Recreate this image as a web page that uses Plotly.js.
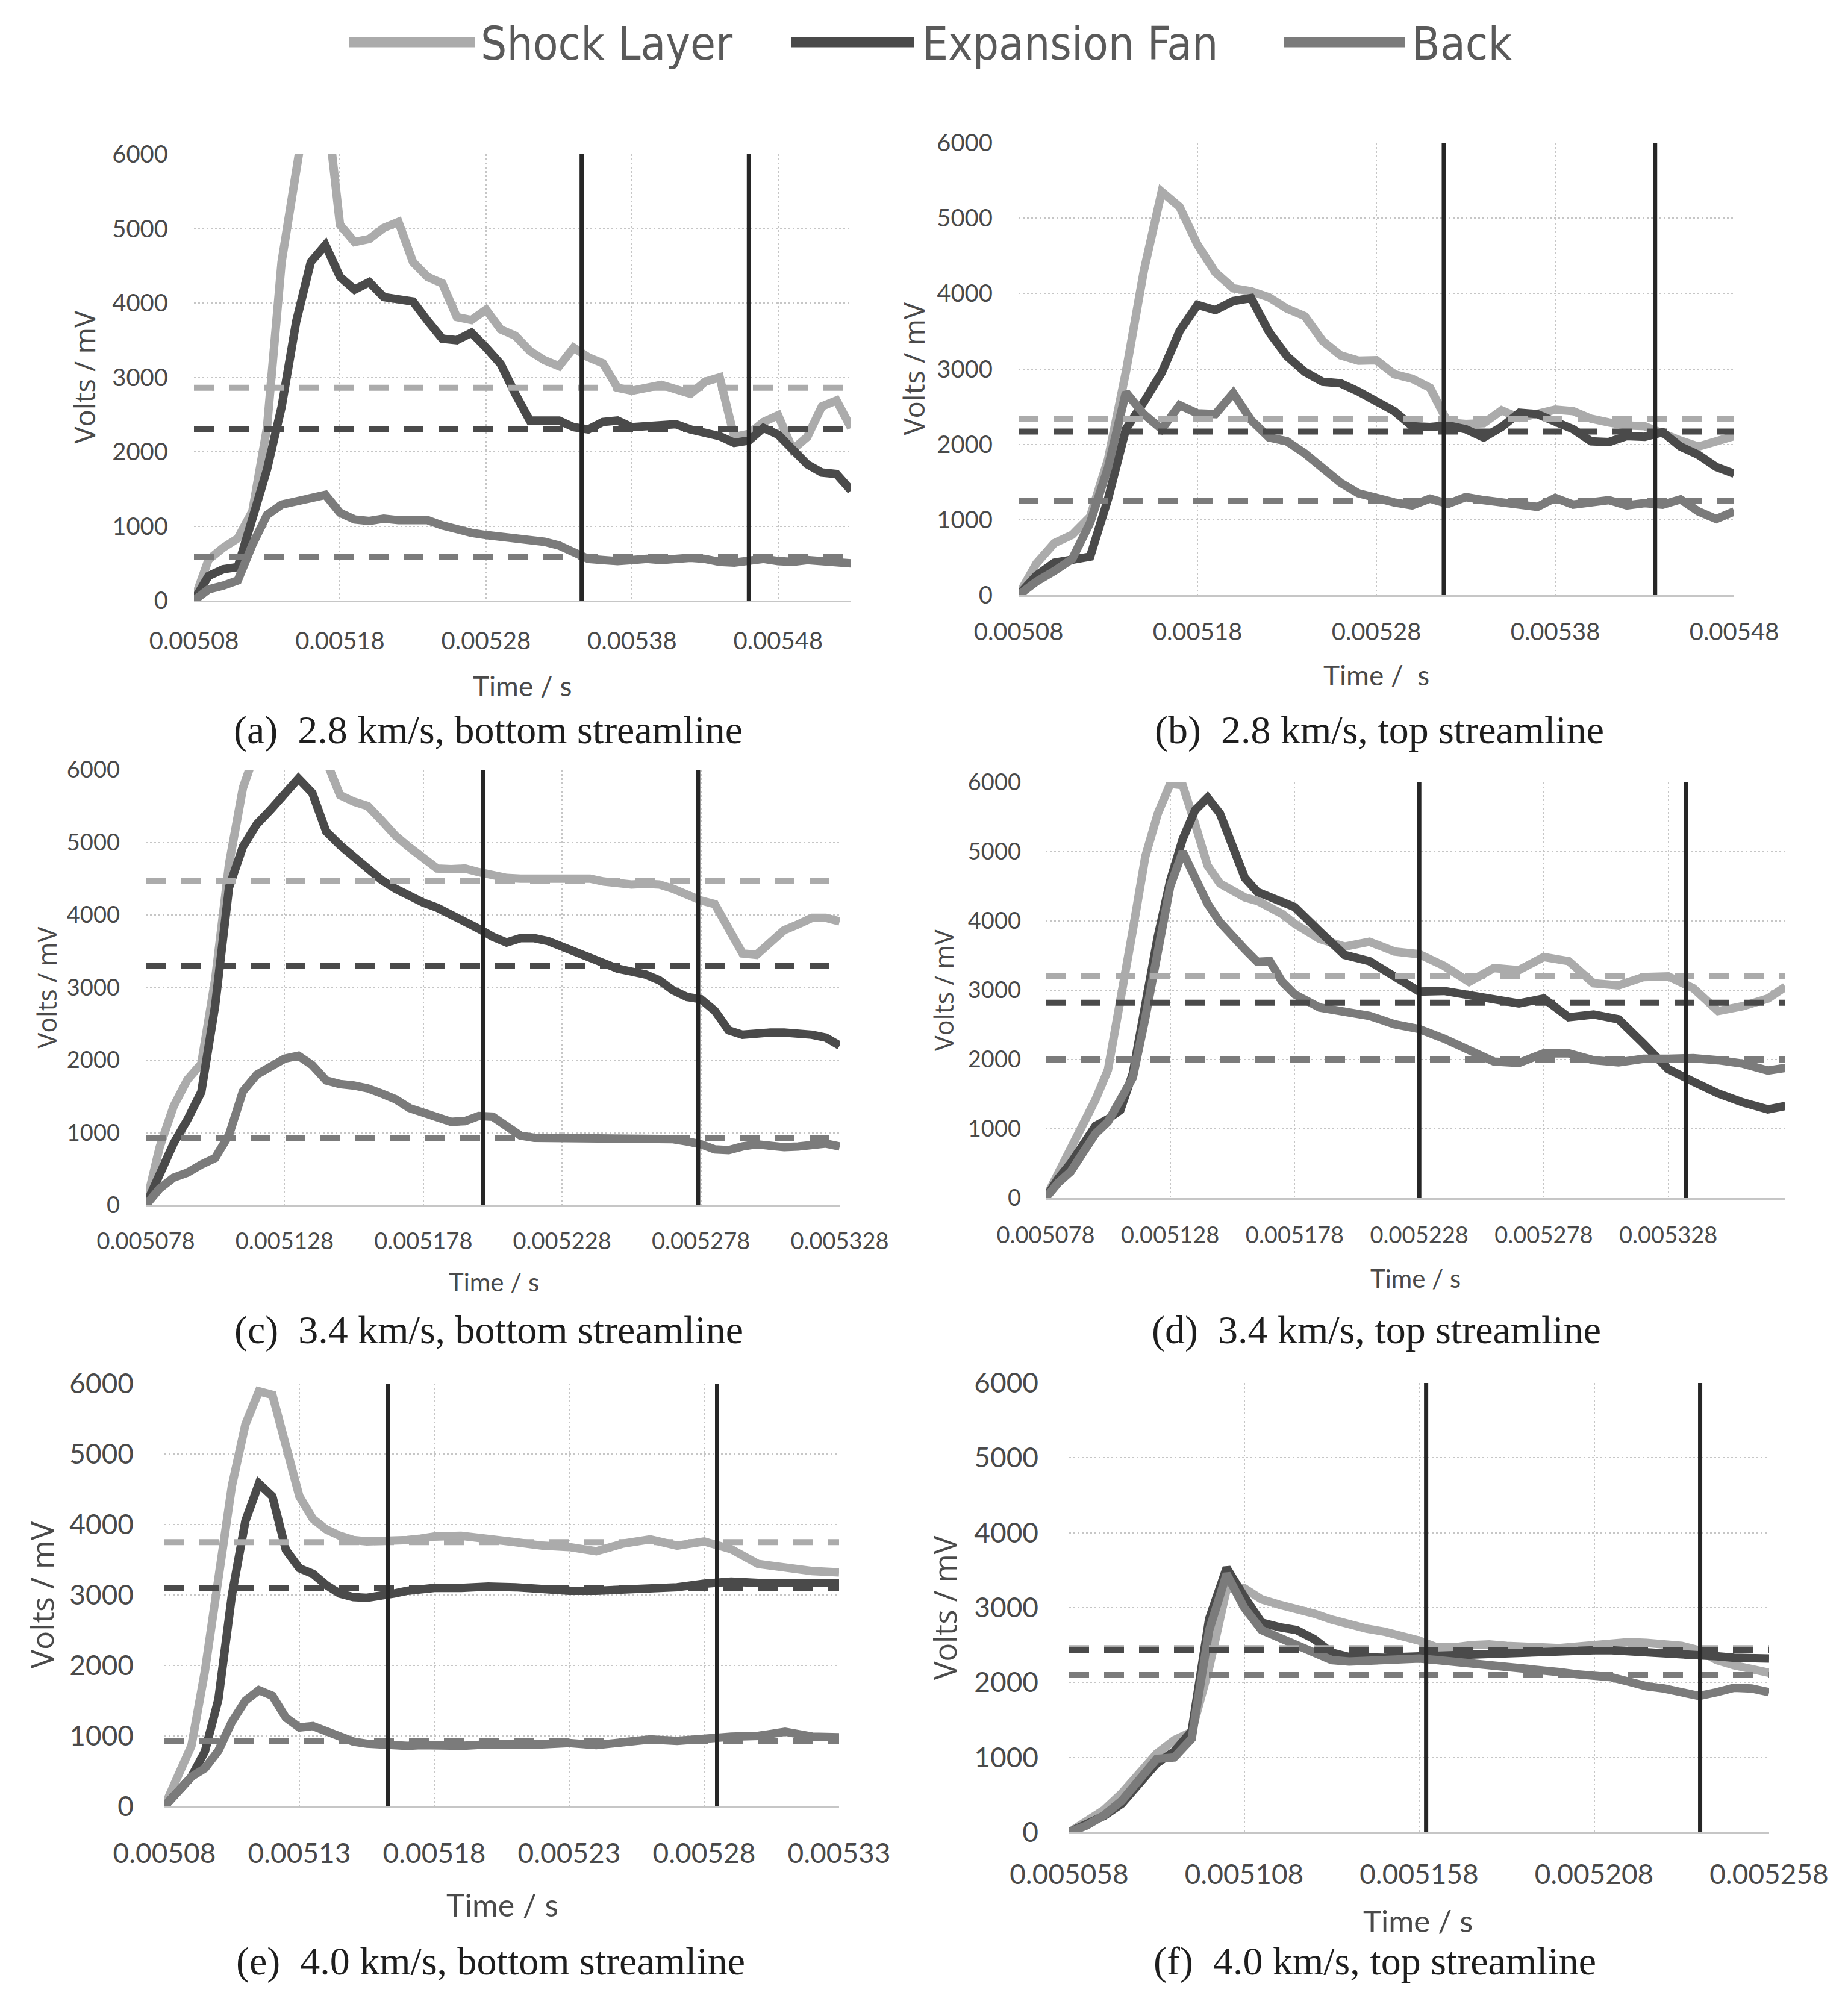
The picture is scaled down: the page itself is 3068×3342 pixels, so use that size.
<!DOCTYPE html>
<html>
<head>
<meta charset="utf-8">
<script src="https://cdn.plot.ly/plotly-3.0.1.min.js"></script>
<style>
  html, body { margin: 0; padding: 0; background: #fff; }
  #chart { width: 3068px; height: 3342px; }
</style>
</head>
<body>
<div id="chart"></div>
<script>
const W = 3068, H = 3342;

// legend / series
const seriesNames = ['Shock Layer', 'Expansion Fan', 'Back'];
const seriesColors = ['#ababab', '#4a4a4a', '#7b7b7b'];

const yTickValues = [0, 1000, 2000, 3000, 4000, 5000, 6000];
const yTickLabels = ['0', '1000', '2000', '3000', '4000', '5000', '6000'];

// (a) 2.8 km/s, bottom streamline
const tA = [0.00508,0.00509,0.00510,0.00511,0.00512,0.00513,0.00514,0.00515,0.00516,0.00517,
  0.00518,0.00519,0.00520,0.00521,0.00522,0.00523,0.00524,0.00525,0.00526,0.00527,
  0.00528,0.00529,0.00530,0.00531,0.00532,0.00533,0.00534,0.00535,0.00536,0.00537,
  0.00538,0.00539,0.00540,0.00541,0.00542,0.00543,0.00544,0.00545,0.00546,0.00547,
  0.00548,0.00549,0.00550,0.00551,0.00552,0.00553];
const shockA = [0,550,710,835,1200,2320,4550,6050,7000,6800,5050,4820,4860,5010,5090,4550,4350,4265,3810,3770,
  3910,3645,3560,3355,3230,3150,3400,3270,3190,2860,2820,2860,2900,2840,2780,2940,3000,2200,2240,2400,
  2490,2030,2200,2610,2690,2320];
const expA = [0,330,420,450,1100,1760,2600,3750,4550,4780,4350,4180,4280,4080,4050,4020,3760,3520,3500,3600,
  3400,3180,2780,2420,2420,2420,2330,2300,2400,2420,2330,2340,2350,2370,2300,2250,2210,2120,2150,2320,
  2230,2030,1830,1720,1700,1480];
const backA = [0,150,200,270,750,1150,1290,1330,1370,1420,1180,1090,1070,1100,1080,1070,1080,1010,950,910,
  880,860,830,815,790,740,640,560,545,530,545,560,545,560,575,560,520,510,545,560,
  530,520,545,530,520,500];
const markA = [0.0053455, 0.0054600];
const meanA = [2860, 2300, 590];
const ticksA = [0.00508, 0.00518, 0.00528, 0.00538, 0.00548];
const tickTextA = ['0.00508', '0.00518', '0.00528', '0.00538', '0.00548'];

// (b) 2.8 km/s, top streamline
const tB = [0.00508,0.00509,0.00510,0.00511,0.00512,0.00513,0.00514,0.00515,0.00516,0.00517,
  0.00518,0.00519,0.00520,0.00521,0.00522,0.00523,0.00524,0.00525,0.00526,0.00527,
  0.00528,0.00529,0.00530,0.00531,0.00532,0.00533,0.00534,0.00535,0.00536,0.00537,
  0.00538,0.00539,0.00540,0.00541,0.00542,0.00543,0.00544,0.00545,0.00546,0.00547,0.00548];
const shockB = [0,420,690,800,1040,1800,2960,4300,5350,5150,4650,4280,4070,4030,3950,3800,3700,3370,3180,3110,
  3115,2930,2870,2750,2290,2270,2280,2450,2350,2400,2460,2440,2340,2290,2250,2240,2130,2050,1970,2030,2110];
const expB = [0,260,430,460,510,1275,2200,2560,2950,3500,3850,3780,3900,3940,3490,3170,2960,2830,2810,2700,
  2570,2440,2240,2230,2250,2200,2090,2230,2420,2400,2300,2200,2040,2030,2110,2100,2160,1970,1860,1700,1610];
const backB = [0,180,320,480,960,1690,2690,2400,2200,2520,2410,2400,2680,2320,2090,2040,1880,1680,1490,1350,
  1280,1230,1190,1280,1210,1300,1260,1230,1220,1170,1290,1200,1230,1260,1190,1220,1200,1270,1110,1010,1110];
const markB = [0.0053177, 0.0054358];
const meanB = [2340, 2170, 1250];
const ticksB = [0.00508, 0.00518, 0.00528, 0.00538, 0.00548];
const tickTextB = ['0.00508', '0.00518', '0.00528', '0.00538', '0.00548'];

// (c) 3.4 km/s, bottom streamline
const tC = [0.005078,0.005083,0.005088,0.005093,0.005098,0.005103,0.005108,0.005113,0.005118,0.005123,
  0.005128,0.005133,0.005138,0.005143,0.005148,0.005153,0.005158,0.005163,0.005168,0.005173,
  0.005178,0.005183,0.005188,0.005193,0.005198,0.005203,0.005208,0.005213,0.005218,0.005223,
  0.005228,0.005233,0.005238,0.005243,0.005248,0.005253,0.005258,0.005263,0.005268,0.005273,
  0.005278,0.005283,0.005288,0.005293,0.005298,0.005303,0.005308,0.005313,0.005318,0.005323,0.005328];
const shockC = [0,800,1360,1730,1950,3110,4700,5750,6300,6700,6900,6800,6600,6150,5650,5560,5500,5300,5090,4930,
  4770,4640,4630,4640,4590,4540,4510,4500,4500,4490,4490,4510,4500,4460,4440,4420,4430,4420,4360,4270,
  4200,4150,3790,3470,3450,3640,3790,3870,3960,3960,3910];
const expC = [0,450,850,1180,1560,2750,4380,4940,5250,5450,5660,5880,5680,5150,4960,4790,4630,4480,4360,4250,
  4170,4100,4010,3900,3810,3700,3620,3680,3680,3640,3560,3470,3400,3330,3260,3220,3180,3100,2960,2870,
  2840,2680,2410,2350,2370,2380,2380,2370,2350,2310,2200];
const backC = [0,230,380,450,560,650,970,1570,1800,1920,2020,2060,1930,1720,1670,1650,1610,1540,1460,1340,
  1270,1200,1150,1160,1230,1220,1100,960,930,930,920,910,920,920,930,930,930,930,910,880,
  840,770,760,810,840,820,800,810,820,850,810];
const markC = [0.0051996, 0.0052770];
const meanC = [4470, 3300, 930];
const ticksC = [0.005078, 0.005128, 0.005178, 0.005228, 0.005278, 0.005328];
const tickTextC = ['0.005078', '0.005128', '0.005178', '0.005228', '0.005278', '0.005328'];

// (d) 3.4 km/s, top streamline
const tD = [0.005078,0.005083,0.005088,0.005093,0.005098,0.005103,0.005108,0.005113,0.005118,0.005123,
  0.005128,0.005133,0.005138,0.005143,0.005148,0.005153,0.005158,0.005163,0.005168,0.005173,0.005178,
  0.005188,0.005198,0.005208,0.005218,0.005228,0.005238,0.005248,0.005258,0.005268,0.005278,
  0.005288,0.005298,0.005308,0.005318,0.005328,0.005338,0.005348,0.005358,0.005368,0.005375];
const shockD = [0,360,670,1050,1420,1850,2820,3870,4930,5550,5980,5960,5400,4800,4540,4430,4340,4290,4190,4100,3960,
  3740,3630,3700,3560,3520,3350,3120,3320,3290,3480,3420,3100,3070,3190,3200,3030,2700,2770,2880,3050];
const expD = [0,280,500,760,1040,1140,1270,1800,2830,3770,4580,5180,5600,5780,5550,5040,4620,4420,4350,4290,4200,
  3850,3510,3420,3190,2980,2990,2920,2880,2810,2880,2610,2650,2580,2230,1860,1680,1510,1380,1280,1330];
const backD = [0,220,380,650,930,1100,1420,1740,2600,3500,4500,5000,4600,4250,3980,3770,3590,3410,3420,3120,2940,
  2750,2700,2630,2510,2440,2300,2120,1970,1950,2090,2090,1990,1960,2010,2010,2020,1990,1940,1840,1880];
const markD = [0.0052280, 0.0053350];
const meanD = [3200, 2820, 2000];
const ticksD = [0.005078, 0.005128, 0.005178, 0.005228, 0.005278, 0.005328];
const tickTextD = ['0.005078', '0.005128', '0.005178', '0.005228', '0.005278', '0.005328'];

// (e) 4.0 km/s, bottom streamline
const tE = [0.00508,0.005085,0.00509,0.005095,0.0051,0.005105,0.00511,0.005115,0.00512,0.005125,
  0.00513,0.005135,0.00514,0.005145,0.00515,0.005155,0.00516,0.005165,0.00517,0.005175,0.00518,
  0.00519,0.0052,0.00521,0.00522,0.00523,0.00524,0.00525,0.00526,0.00527,0.00528,
  0.00529,0.0053,0.00531,0.00532,0.00533];
const shockE = [0,420,860,1920,3330,4550,5420,5890,5840,5120,4400,4080,3930,3840,3780,3760,3760,3770,3780,3800,3830,
  3840,3780,3750,3700,3680,3620,3730,3790,3700,3760,3650,3440,3380,3340,3320];
const expE = [0,200,420,780,1520,3000,4050,4580,4400,3640,3380,3300,3140,3020,2970,2960,2980,3020,3060,3080,3100,
  3100,3120,3110,3070,3060,3060,3080,3100,3110,3160,3190,3170,3170,3180,3170];
const backE = [0,210,420,540,790,1200,1500,1650,1570,1260,1120,1140,1070,980,920,890,880,860,860,870,860,
  860,880,870,880,900,870,910,950,930,970,990,1000,1060,990,980];
const markE = [0.0051627, 0.0052848];
const meanE = [3750, 3100, 930];
const ticksE = [0.00508, 0.00513, 0.00518, 0.00523, 0.00528, 0.00533];
const tickTextE = ['0.00508', '0.00513', '0.00518', '0.00523', '0.00528', '0.00533'];

// (f) 4.0 km/s, top streamline
const tF = [0.005058,0.005063,0.005068,0.005073,0.005078,0.005083,0.005088,0.005093,0.005098,0.005103,
  0.005108,0.005113,0.005118,0.005123,0.005128,0.005133,0.005138,0.005143,0.005148,0.005153,
  0.005158,0.005163,0.005168,0.005173,0.005178,0.005183,0.005188,0.005193,0.005198,0.005203,
  0.005208,0.005213,0.005218,0.005223,0.005228,0.005233,0.005238,0.005243,0.005248,0.005253,0.005258];
const shockF = [0,150,300,520,780,1050,1230,1340,2200,3250,3260,3110,3040,2990,2920,2840,2770,2720,2680,2620,
  2560,2470,2470,2500,2510,2490,2480,2470,2460,2480,2500,2530,2540,2530,2510,2490,2430,2300,2230,2190,2130];
const expF = [0,100,220,380,640,920,1080,1350,2850,3530,3150,2800,2740,2700,2580,2400,2340,2330,2330,2340,
  2350,2360,2370,2375,2380,2390,2400,2410,2420,2430,2430,2430,2420,2400,2390,2385,2375,2350,2330,2330,2320];
const backF = [0,90,230,420,700,980,1000,1250,2700,3450,3000,2700,2600,2510,2420,2300,2280,2290,2300,2310,
  2320,2300,2280,2260,2240,2220,2200,2170,2140,2110,2090,2070,2010,1950,1920,1870,1820,1870,1930,1920,1870];
const markF = [0.0051600, 0.0052383];
const meanF = [2460, 2430, 2100];
const ticksF = [0.005058, 0.005108, 0.005158, 0.005208, 0.005258];
const tickTextF = ['0.005058', '0.005108', '0.005158', '0.005208', '0.005258'];

const captions = [
  '(a)\u00a0 2.8 km/s, bottom streamline',
  '(b)\u00a0 2.8 km/s, top streamline',
  '(c)\u00a0 3.4 km/s, bottom streamline',
  '(d)\u00a0 3.4 km/s, top streamline',
  '(e)\u00a0 4.0 km/s, bottom streamline',
  '(f)\u00a0 4.0 km/s, top streamline'
];

// panel layout in page pixels
const panels = [
  {t: tA, s: [shockA, expA, backA], mark: markA, mean: meanA, ticks: ticksA, tickText: tickTextA,
   range: [0.00508, 0.00553], box: [322, 1413, 256, 997], tick: 40, xstand: 30, ystand: 42,
   ytitle: {x: 139, size: 47}, xtitle: {x: 867, y: 1138, size: 46, text: 'Time / s'}, cap: {x: 810, y: 1212}},
  {t: tB, s: [shockB, expB, backB], mark: markB, mean: meanB, ticks: ticksB, tickText: tickTextB,
   range: [0.00508, 0.00548], box: [1691, 2879, 237, 988], tick: 40, xstand: 24, ystand: 42,
   ytitle: {x: 1516, size: 47}, xtitle: {x: 2285, y: 1120, size: 46, text: 'Time /\u00a0 s'}, cap: {x: 2290, y: 1212}},
  {t: tC, s: [shockC, expC, backC], mark: markC, mean: meanC, ticks: ticksC, tickText: tickTextC,
   range: [0.005078, 0.005328], box: [242, 1394, 1278, 2001], tick: 38, xstand: 24, ystand: 42,
   ytitle: {x: 77, size: 43}, xtitle: {x: 820, y: 2128, size: 42, text: 'Time / s'}, cap: {x: 812, y: 2208}},
  {t: tD, s: [shockD, expD, backD], mark: markD, mean: meanD, ticks: ticksD, tickText: tickTextD,
   range: [0.005078, 0.005375], box: [1736, 2964, 1299, 1989], tick: 38, xstand: 26, ystand: 40,
   ytitle: {x: 1567, size: 43}, xtitle: {x: 2350, y: 2122, size: 42, text: 'Time / s'}, cap: {x: 2285, y: 2208}},
  {t: tE, s: [shockE, expE, backE], mark: markE, mean: meanE, ticks: ticksE, tickText: tickTextE,
   range: [0.00508, 0.00533], box: [273, 1393, 2297, 2999], tick: 46, xstand: 36, ystand: 50,
   ytitle: {x: 68, size: 52}, xtitle: {x: 834, y: 3162, size: 52, text: 'Time / s'}, cap: {x: 814, y: 3256}},
  {t: tF, s: [shockF, expF, backF], mark: markF, mean: meanF, ticks: ticksF, tickText: tickTextF,
   range: [0.005058, 0.005258], box: [1775, 2937, 2296, 3042], tick: 46, xstand: 28, ystand: 50,
   ytitle: {x: 1568, size: 51}, xtitle: {x: 2354, y: 3188, size: 51, text: 'Time / s'}, cap: {x: 2282, y: 3256}}
];

const textGrey = '#4a4a4a';
const gridGrey = '#c6c6c6';
const px = v => v / W;
const py = v => 1 - v / H;

let traces = [];
let layout = {
  width: W, height: H,
  margin: {l: 0, r: 0, t: 0, b: 0},
  paper_bgcolor: '#fff', plot_bgcolor: '#fff',
  showlegend: false,
  annotations: [],
  shapes: []
};

panels.forEach((p, i) => {
  const n = i === 0 ? '' : String(i + 1);
  const xa = 'x' + n, ya = 'y' + n;

  // measured signals
  p.s.forEach((vals, k) => {
    traces.push({x: p.t, y: vals, xaxis: xa, yaxis: ya, mode: 'lines', name: seriesNames[k],
      line: {color: seriesColors[k], width: 14}, hoverinfo: 'skip'});
  });
  // mean levels (dashed)
  p.mean.forEach((v, k) => {
    traces.push({x: p.range, y: [v, v], xaxis: xa, yaxis: ya, mode: 'lines',
      line: {color: seriesColors[k], width: 10, dash: '33px,25px'}, hoverinfo: 'skip'});
  });
  // averaging window markers
  p.mark.forEach(t => {
    traces.push({x: [t, t], y: [0, 6000], xaxis: xa, yaxis: ya, mode: 'lines',
      line: {color: '#262626', width: 7}, hoverinfo: 'skip'});
  });

  const [l, r, top, bot] = p.box;
  layout['xaxis' + n] = {
    domain: [px(l), px(r)], range: p.range, anchor: ya,
    tickmode: 'array', tickvals: p.ticks, ticktext: p.tickText,
    showgrid: true, gridcolor: gridGrey, griddash: '3px,4px', gridwidth: 2,
    showline: true, linecolor: gridGrey, linewidth: 3, zeroline: false, ticks: '',
    ticklabelstandoff: p.xstand,
    tickfont: {family: 'Lato, sans-serif', size: p.tick, color: textGrey}
  };
  layout['yaxis' + n] = {
    domain: [py(bot), py(top)], range: [0, 6000], anchor: xa,
    tickmode: 'array', tickvals: yTickValues, ticktext: yTickLabels,
    showgrid: true, gridcolor: gridGrey, griddash: '3px,4px', gridwidth: 2,
    showline: false, zeroline: false, ticks: '',
    ticklabelstandoff: p.ystand,
    tickfont: {family: 'Lato, sans-serif', size: p.tick, color: textGrey}
  };

  layout.annotations.push({
    text: 'Volts / mV', textangle: -90, xref: 'paper', yref: 'paper',
    x: px(p.ytitle.x), y: py((top + bot) / 2), xanchor: 'center', yanchor: 'middle', showarrow: false,
    font: {family: 'Open Sans, sans-serif', size: p.ytitle.size, color: textGrey}
  });
  layout.annotations.push({
    text: p.xtitle.text, xref: 'paper', yref: 'paper',
    x: px(p.xtitle.x), y: py(p.xtitle.y), xanchor: 'center', yanchor: 'middle', showarrow: false,
    font: {family: 'Lato, sans-serif', size: p.xtitle.size, color: textGrey}
  });
  layout.annotations.push({
    text: captions[i], xref: 'paper', yref: 'paper',
    x: px(p.cap.x), y: py(p.cap.y), xanchor: 'center', yanchor: 'middle', showarrow: false,
    font: {family: 'Liberation Serif, Times New Roman, serif', size: 66, color: '#1e1e1e'}
  });
});

// legend across the top
const legendSample = [[579, 788], [1314, 1517], [2131, 2333]];
const legendText = [796, 1529, 2342];
seriesNames.forEach((name, k) => {
  layout.shapes.push({type: 'line', xref: 'paper', yref: 'paper',
    x0: px(legendSample[k][0]), x1: px(legendSample[k][1]), y0: py(70), y1: py(70),
    line: {color: seriesColors[k], width: 17}});
  layout.annotations.push({text: name, xref: 'paper', yref: 'paper',
    x: px(legendText[k]), y: py(72), xanchor: 'left', yanchor: 'middle', showarrow: false,
    font: {family: 'Liberation Sans Narrow, DejaVu Sans Condensed, Arial Narrow, sans-serif', size: 76, color: '#5a5a5a'}});
});

Plotly.newPlot('chart', traces, layout, {staticPlot: true});
</script>
</body>
</html>
